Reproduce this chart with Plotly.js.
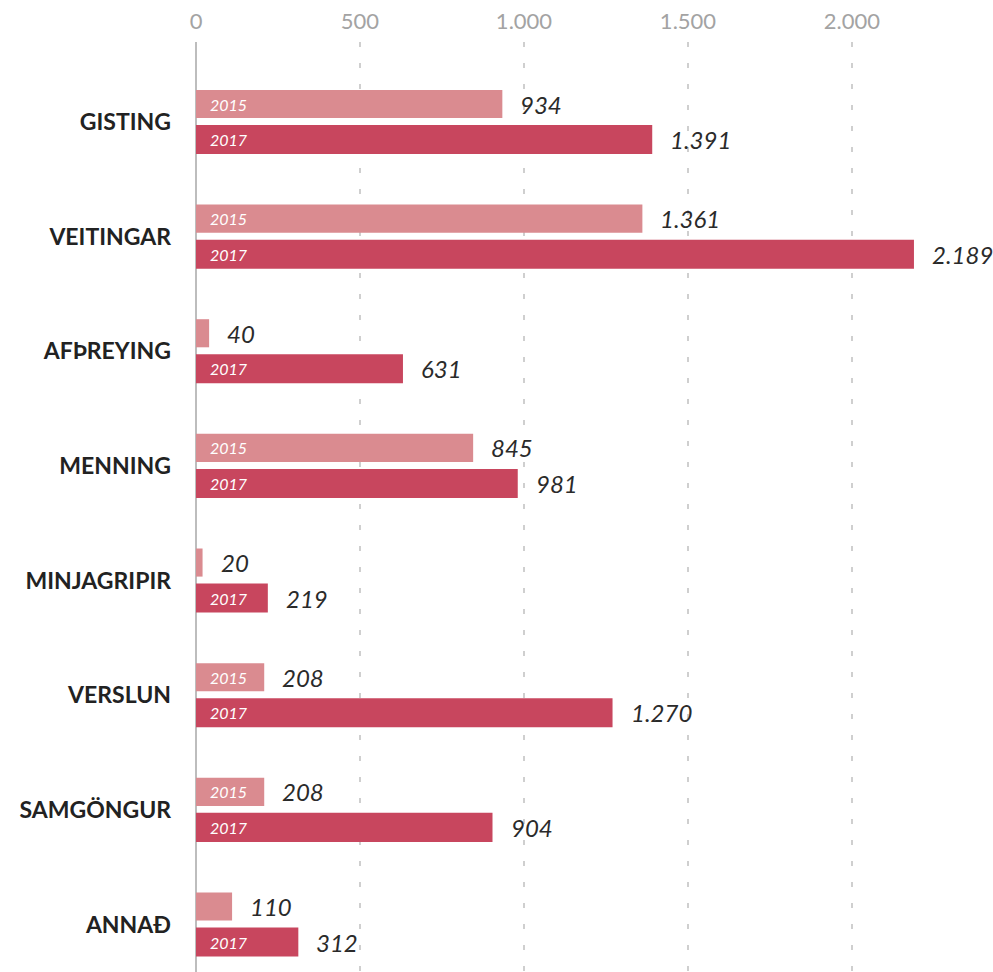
<!DOCTYPE html>
<html lang="is">
<head>
<meta charset="UTF-8">
<title>Útgjöld ferðamanna</title>
<script src="https://cdn.plot.ly/plotly-3.0.1.min.js"></script>
<style>
  html, body { margin: 0; padding: 0; background: #fff; }
  #chart { width: 993px; height: 972px; }
</style>
</head>
<body>
<div id="chart"></div>
<script>
// gögn lesin af myndinni
const categories = ['GISTING', 'VEITINGAR', 'AFÞREYING', 'MENNING', 'MINJAGRIPIR', 'VERSLUN', 'SAMGÖNGUR', 'ANNAÐ'];
const years = ['2015', '2017'];
const values2015 = [934, 1361, 40, 845, 20, 208, 208, 110];
const values2017 = [1391, 2189, 631, 981, 219, 1270, 904, 312];
const xTicks = [0, 500, 1000, 1500, 2000];

const colors = ['#DA8B90', '#C8465E'];
const fontFamily = 'Lato, "Open Sans", sans-serif';

// punktur sem þúsundaskil
function fmt(v) {
  return String(v).replace(/\B(?=(\d{3})+(?!\d))/g, '.');
}

const series = [values2015, values2017];
const offsets = [-0.28, 0.026];
const widths = [0.245, 0.253];
const shifts = [18, -17.5];

const traces = series.map((vals, s) => ({
  type: 'bar',
  orientation: 'h',
  name: years[s],
  y: categories,
  x: vals,
  offset: offsets[s],
  width: widths[s],
  marker: { color: colors[s] },
  hoverinfo: 'skip'
}));

const annotations = [];
series.forEach((vals, s) => {
  vals.forEach((v, i) => {
    // talan utan við súluna
    annotations.push({
      x: v, y: categories[i], xref: 'x', yref: 'y',
      text: '<i>' + fmt(v) + '</i>',
      showarrow: false, xanchor: 'left', xshift: 16, yshift: shifts[s],
      font: { family: fontFamily, size: 24, color: '#2a2a2a' }
    });
    // ártal inni í súlunni, bara ef pláss er fyrir það
    if (v >= 150) {
      annotations.push({
        x: 0, y: categories[i], xref: 'x', yref: 'y',
        text: '<i>' + years[s] + '</i>',
        showarrow: false, xanchor: 'left', xshift: 12, yshift: shifts[s],
        font: { family: fontFamily, size: 16, color: '#ffffff' }
      });
    }
  });
});

const layout = {
  width: 993,
  height: 972,
  margin: { l: 196, r: 0, t: 42, b: 0 },
  paper_bgcolor: '#fff',
  plot_bgcolor: '#fff',
  separators: ',.',
  showlegend: false,
  font: { family: fontFamily },
  xaxis: {
    side: 'top',
    range: [0, 2430],
    tickvals: xTicks,
    ticktext: xTicks.map(fmt),
    ticks: '',
    ticklabelstandoff: 8,
    tickfont: { family: fontFamily, size: 22, color: '#a3a3a3' },
    showgrid: true,
    gridcolor: '#cfcfcf',
    gridwidth: 1.5,
    griddash: '5px,16px',
    zeroline: true,
    zerolinecolor: '#bdbdbd',
    zerolinewidth: 2.5,
    showline: false,
    fixedrange: true
  },
  yaxis: {
    type: 'category',
    range: [7.414, -0.698],
    ticks: '',
    ticklabelstandoff: 24,
    tickfont: { family: fontFamily, size: 23, color: '#222', weight: 'bold' },
    showgrid: false,
    zeroline: false,
    showline: false,
    fixedrange: true
  },
  annotations: annotations
};

Plotly.newPlot('chart', traces, layout, { displayModeBar: false, staticPlot: true });
</script>
</body>
</html>
